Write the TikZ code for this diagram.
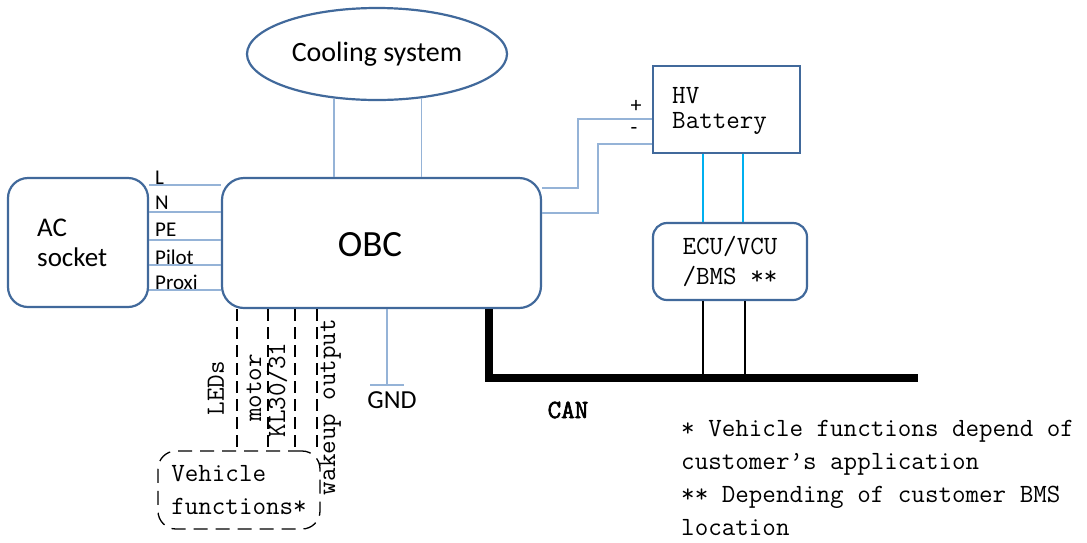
\documentclass[tikz,border=0pt]{standalone}
\usepackage{fontspec}
\setmainfont{Carlito}
\newcommand\monof{\ttfamily}
\newfontfamily\canf{Latin Modern Mono}[FakeBold=2.5]
\usetikzlibrary{shapes.geometric}
\definecolor{boxblue}{RGB}{65,105,155}
\definecolor{wireblue}{RGB}{149,179,215}
\definecolor{cyanw}{RGB}{0,176,240}
\begin{document}
\begin{tikzpicture}[x=1pt,y=-1pt,
  box/.style={draw=boxblue, line width=2.2pt, fill=white, inner sep=0pt},
  rbox/.style={box, rounded corners=22pt},
  wire/.style={draw=wireblue, line width=1.5pt},
  cwire/.style={draw=cyanw, line width=1.5pt},
  bwire/.style={draw=black, line width=1.5pt},
  dwire/.style={draw=black, line width=1.4pt, dash pattern=on 12pt off 6pt},
  mono/.style={font=\monof\fontsize{26.3}{28}\selectfont, inner sep=0pt},
  lbl/.style={font=\fontsize{21}{22}\selectfont, inner sep=0pt, anchor=west},
  txt/.style={inner sep=0pt},
]
\useasboundingbox (0,0) rectangle (1087,542);

% nodes
\node[box, ellipse, minimum width=260pt, minimum height=92pt, font=\fontsize{28}{30}\selectfont] (cool) at (377,54) {Cooling system};
\node[rbox, minimum width=319pt, minimum height=130pt] (obc) at (381.5,243) {};
\node[txt, font=\fontsize{37}{40}\selectfont] (obctext) at (370,245) {OBC};
\node[rbox, rounded corners=20pt, minimum width=140pt, minimum height=129pt] (ac) at (78,242.5) {};
\node[txt, font=\fontsize{27}{30}\selectfont, align=left, anchor=west] (actext) at (37,243) {AC\\socket};
\node[box, minimum width=147pt, minimum height=87pt] (bat) at (726.5,109.5) {};
\node[mono, font=\monof\fontsize{26.3}{25}\selectfont, align=left, anchor=west] (battext) at (672,111) {HV\\Battery};
\node[rbox, rounded corners=14pt, minimum width=154pt, minimum height=77pt, font=\monof\fontsize{26.3}{30}\selectfont, align=center] (ecu) at (730,261.5) {ECU/VCU\\/BMS **};
\node[draw=black, line width=1.3pt, dash pattern=on 14pt off 8pt, rounded corners=18pt, minimum width=162pt, minimum height=78pt, inner sep=0pt, font=\monof\fontsize{26.3}{33}\selectfont, align=left] (vf) at (239,490) {Vehicle\\functions*};

% labels of AC lines
\node[lbl] (lL) at (155,178) {L};
\node[lbl] (lN) at (155,203) {N};
\node[lbl] (lPE) at (155,230) {PE};
\node[lbl] (lPi) at (155,257) {Pilot};
\node[lbl] (lPr) at (155,282) {Proxi};

% AC lines
\foreach \yy in {185,212,240,265,290}{
  \draw[wire] (ac.east |- 0,\yy) -- (obc.west |- 0,\yy);
}

% cooling connections
\draw[wire] (cool.226.8) -- (cool.226.8 |- obc.north);
\draw[wire] (cool.315.5) -- (cool.315.5 |- obc.north);

% battery wires
\node[txt, font=\fontsize{22}{22}\selectfont] (plus) at (636,106) {+};
\node[txt, font=\fontsize{22}{22}\selectfont] (minus) at (634,131) {-};
\draw[wire] (bat.west |- 0,119) -| (578,188) -- (obc.east |- 0,188);
\draw[wire] (bat.west |- 0,144) -| (598,213) -- (obc.east |- 0,213);

% battery to ECU
\draw[cwire] (bat.south -| 703,0) -- (ecu.north -| 703,0);
\draw[cwire] (bat.south -| 743,0) -- (ecu.north -| 743,0);

% CAN bus
\coordinate (cc) at (489,378);
\coordinate (ce) at (918,378);
\draw[line width=8pt] (obc.south -| cc) -- (cc) -- (ce);
\draw[bwire] (ecu.south -| 703,0) -- (703,0 |- cc);
\draw[bwire] (ecu.south -| 745,0) -- (745,0 |- cc);
\node[inner sep=0pt, font=\canf\fontsize{26.3}{28}\selectfont] (canl) at (568,410) {CAN};

% GND
\coordinate (gnd) at (387,385);
\draw[wire] (obc.south -| gnd) -- (gnd);
\draw[wire] ([xshift=-17pt]gnd) -- ([xshift=17pt]gnd);
\node[txt, font=\fontsize{26}{28}\selectfont] (gndl) at (392,400) {GND};

% vehicle function lines
\draw[dwire] (obc.south -| 237,0) -- (237,0 |- vf.north);
\draw[dwire] (obc.south -| 268,0) -- (268,0 |- vf.north);
\draw[dwire] (obc.south -| 295,0) -- (295,0 |- vf.north);
\draw[dwire] (obc.south -| 317,0) -- (317,0 |- vf.north);
\node[mono, rotate=90] (ledl) at (216,388) {LEDs};
\node[mono, rotate=90] (motl) at (254,388) {motor};
\node[mono, rotate=90] (kll) at (277,390) {KL30/31};
\node[mono, rotate=90] (wkl) at (330,407) {wakeup output};

% notes
\node[mono, font=\monof\fontsize{26.3}{33}\selectfont, align=left, anchor=west] (notes) at (681,478) {* Vehicle functions depend of\\customer’s application\\** Depending of customer BMS\\location};
\end{tikzpicture}
\end{document}
